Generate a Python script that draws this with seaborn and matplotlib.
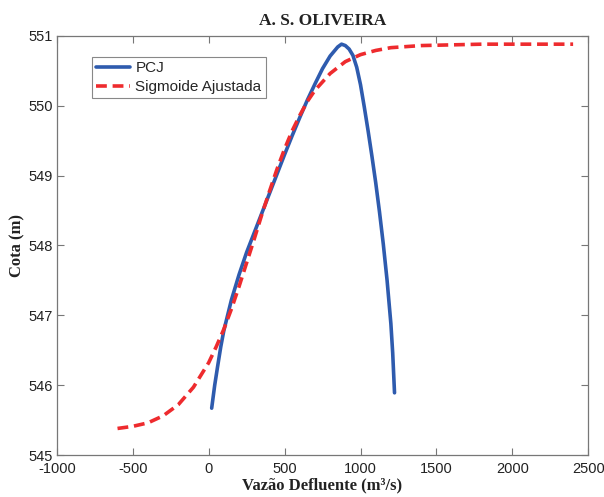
import matplotlib
matplotlib.use('Agg')
import matplotlib.pyplot as plt
import pandas as pd
import seaborn as sns

# PCJ curve
pcj_x = [20, 40, 60, 80, 100, 150, 200, 250, 300, 350, 400, 450, 500, 550,
         600, 650, 700, 750, 800, 850, 875, 900, 925, 950, 975, 1000, 1025,
         1050, 1075, 1100, 1125, 1150, 1175, 1200, 1212, 1224]
pcj_y = [545.67, 546.00, 546.28, 546.55, 546.78, 547.22, 547.58, 547.90,
         548.18, 548.46, 548.74, 549.02, 549.30, 549.57, 549.83, 550.08,
         550.31, 550.53, 550.71, 550.84, 550.88, 550.86, 550.81, 550.72,
         550.55, 550.30, 549.98, 549.64, 549.28, 548.90, 548.48, 548.02,
         547.50, 546.88, 546.46, 545.89]

# fitted sigmoid
sig_x = [-600, -500, -400, -300, -200, -100, 0, 50, 100, 150, 200, 250, 300,
         350, 400, 450, 500, 550, 600, 650, 700, 800, 900, 1000, 1100, 1200,
         1400, 1600, 1800, 2000, 2200, 2400]
sig_y = [545.38, 545.41, 545.46, 545.56, 545.72, 545.97, 546.32, 546.55,
         546.80, 547.09, 547.41, 547.75, 548.09, 548.44, 548.77, 549.09,
         549.38, 549.64, 549.86, 550.06, 550.22, 550.46, 550.63, 550.73,
         550.79, 550.83, 550.86, 550.87, 550.88, 550.88, 550.88, 550.88]

pcj = pd.DataFrame({'x': pcj_x, 'y': pcj_y})
sig = pd.DataFrame({'x': sig_x, 'y': sig_y})

sns.set_style('ticks')
plt.rcParams['font.family'] = ['Liberation Sans', 'DejaVu Sans']
plt.rcParams['axes.unicode_minus'] = False

fig = plt.figure(figsize=(6.04, 4.97), dpi=100)
ax = fig.add_axes([0.094, 0.0845, 0.880, 0.8435])

sns.lineplot(data=pcj, x='x', y='y', ax=ax, color='#2E5BAE', linewidth=2.6,
             label='PCJ', sort=False)
sns.lineplot(data=sig, x='x', y='y', ax=ax, color='#EE2B2E', linewidth=2.6,
             linestyle=(0, (3, 1.6)), label='Sigmoide Ajustada', sort=False)

ax.set_xlim(-1000, 2500)
ax.set_ylim(545, 551)
ax.set_xticks(range(-1000, 2501, 500))
ax.set_yticks(range(545, 552))
ax.tick_params(direction='in', top=True, right=True, length=5, width=0.8,
               color='#777777', labelsize=10.5, labelcolor='#222222')
ax.tick_params(axis='x', pad=5)
ax.tick_params(axis='y', pad=3)
for s in ax.spines.values():
    s.set_visible(True)
    s.set_color('#777777')
    s.set_linewidth(0.9)

serif = {'family': ['Liberation Serif', 'DejaVu Serif'], 'weight': 'bold'}
ax.set_title('A. S. OLIVEIRA', fontdict=serif, fontsize=12.5, color='#222222', pad=8)
ax.set_xlabel('Vazão Defluente (m³/s)', fontdict=serif, fontsize=12,
              color='#222222', labelpad=1)
ax.set_ylabel('Cota (m)', fontdict=serif, fontsize=12, color='#222222', labelpad=2)

leg = ax.legend(loc='upper left', bbox_to_anchor=(0.066, 0.95), borderaxespad=0,
                fancybox=False, framealpha=1, edgecolor='#888888', fontsize=11,
                handlelength=2.2, borderpad=0.3, labelspacing=0.3,
                handletextpad=0.35)
leg.get_frame().set_linewidth(0.8)

fig.savefig('out.png', dpi=100)
